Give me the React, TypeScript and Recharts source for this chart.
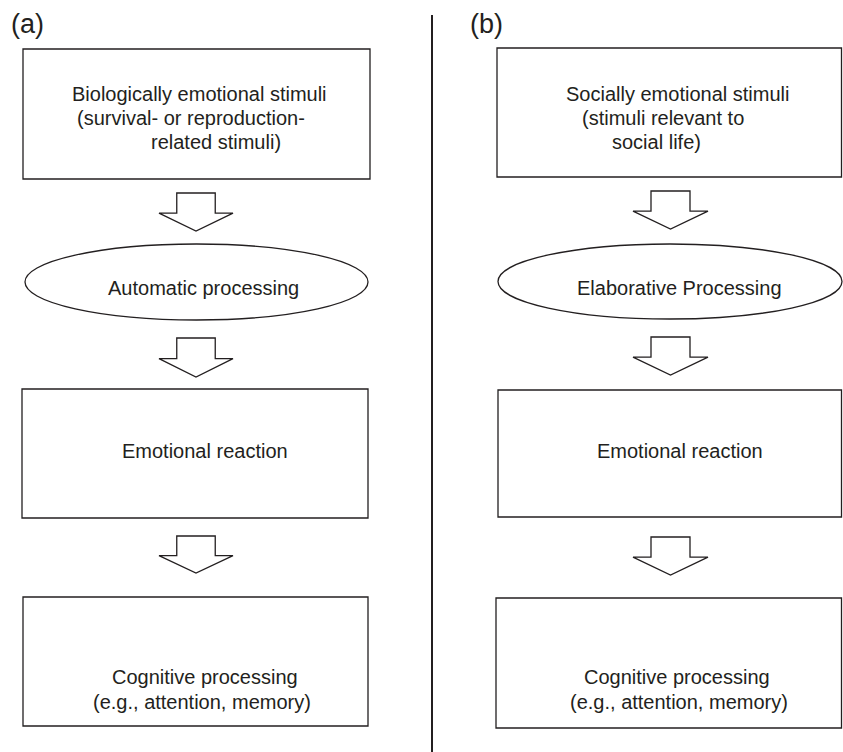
import { ScatterChart, Scatter, XAxis, YAxis, ReferenceArea, ReferenceLine } from "recharts"

// diagram space: x 0..843, y 0..752 (top to bottom)
const panelLabels = [
  { x: 11, y: 33, text: "(a)" },
  { x: 470, y: 33, text: "(b)" },
]

const boxes = [
  { x1: 23, x2: 370, y1: 49, y2: 179 },
  { x1: 22, x2: 368, y1: 389, y2: 518 },
  { x1: 23, x2: 368, y1: 597, y2: 726 },
  { x1: 497, x2: 841.5, y1: 48, y2: 177 },
  { x1: 498, x2: 841.5, y1: 390, y2: 517 },
  { x1: 496, x2: 841.5, y1: 598, y2: 728 },
]

const ellipses = [
  { x1: 25, x2: 368, y1: 244, y2: 320 },
  { x1: 498, x2: 842, y1: 244, y2: 319 },
]

// hollow arrows: from stem top to tip
const arrows = [
  { x1: 159, x2: 233, y1: 193, y2: 231 },
  { x1: 159, x2: 233, y1: 338, y2: 377 },
  { x1: 159, x2: 233, y1: 536, y2: 573 },
  { x1: 633, x2: 708, y1: 191, y2: 229 },
  { x1: 633, x2: 708, y1: 337, y2: 375 },
  { x1: 633, x2: 708, y1: 537, y2: 575 },
]

const textLines = [
  { x: 72, y: 101, text: "Biologically emotional stimuli" },
  { x: 77, y: 125, text: "(survival- or reproduction-" },
  { x: 151, y: 149, text: "related stimuli)" },
  { x: 108, y: 295, text: "Automatic processing" },
  { x: 122, y: 458, text: "Emotional reaction" },
  { x: 112, y: 684, text: "Cognitive processing" },
  { x: 93, y: 709, text: "(e.g., attention, memory)" },
  { x: 566, y: 101, text: "Socially emotional stimuli" },
  { x: 582, y: 125, text: "(stimuli relevant to" },
  { x: 612, y: 149, text: "social life)" },
  { x: 577, y: 295, text: "Elaborative Processing" },
  { x: 597, y: 458, text: "Emotional reaction" },
  { x: 584, y: 684, text: "Cognitive processing" },
  { x: 570, y: 709, text: "(e.g., attention, memory)" },
]

const divider = { x: 432, y1: 15, y2: 752 }

const INK = "#231f20"
const FONT = "'Liberation Sans', Arial, Helvetica, sans-serif"

function EllipseShape(props: any) {
  const { x, y, width, height } = props
  return (
    <ellipse
      cx={x + width / 2}
      cy={y + height / 2}
      rx={Math.abs(width) / 2}
      ry={Math.abs(height) / 2}
      fill="none"
      stroke={INK}
      strokeWidth={1.3}
    />
  )
}

function ArrowShape(props: any) {
  const { x, y, width, height } = props
  const top = Math.min(y, y + height)
  const h = Math.abs(height)
  const cx = x + width / 2
  const stem = width * 0.26
  const wing = top + h * 0.53
  const tip = top + h
  const pts = [
    [cx - stem, top],
    [cx + stem, top],
    [cx + stem, wing],
    [x + width, wing],
    [cx, tip],
    [x, wing],
    [cx - stem, wing],
  ]
    .map((p) => p.join(","))
    .join(" ")
  return <polygon points={pts} fill="#fff" stroke={INK} strokeWidth={1.3} />
}

function TextShape(size: number) {
  return (props: any) => (
    <text x={props.cx} y={props.cy} fontSize={size} fontFamily={FONT} fill={INK}>
      {props.payload.text}
    </text>
  )
}

export default function App() {
  return (
    <div style={{ position: "absolute", left: 0, top: 0, background: "#fff" }}>
      <ScatterChart width={843} height={752} margin={{ top: 0, right: 0, bottom: 0, left: 0 }}>
        <XAxis type="number" dataKey="x" domain={[0, 843]} hide />
        <YAxis type="number" dataKey="y" domain={[0, 752]} reversed hide />

        <ReferenceLine
          segment={[
            { x: divider.x, y: divider.y1 },
            { x: divider.x, y: divider.y2 },
          ]}
          stroke={INK}
          strokeWidth={2}
          ifOverflow="visible"
        />

        {boxes.map((b, i) => (
          <ReferenceArea
            key={"box" + i}
            x1={b.x1}
            x2={b.x2}
            y1={b.y1}
            y2={b.y2}
            fill="#fff"
            fillOpacity={1}
            stroke={INK}
            strokeWidth={1.3}
            ifOverflow="visible"
          />
        ))}

        {ellipses.map((e, i) => (
          <ReferenceArea
            key={"ell" + i}
            x1={e.x1}
            x2={e.x2}
            y1={e.y1}
            y2={e.y2}
            shape={<EllipseShape />}
            ifOverflow="visible"
          />
        ))}

        {arrows.map((a, i) => (
          <ReferenceArea
            key={"arr" + i}
            x1={a.x1}
            x2={a.x2}
            y1={a.y1}
            y2={a.y2}
            shape={<ArrowShape />}
            ifOverflow="visible"
          />
        ))}

        <Scatter data={textLines} shape={TextShape(20)} isAnimationActive={false} />
        <Scatter data={panelLabels} shape={TextShape(27)} isAnimationActive={false} />
      </ScatterChart>
    </div>
  )
}
